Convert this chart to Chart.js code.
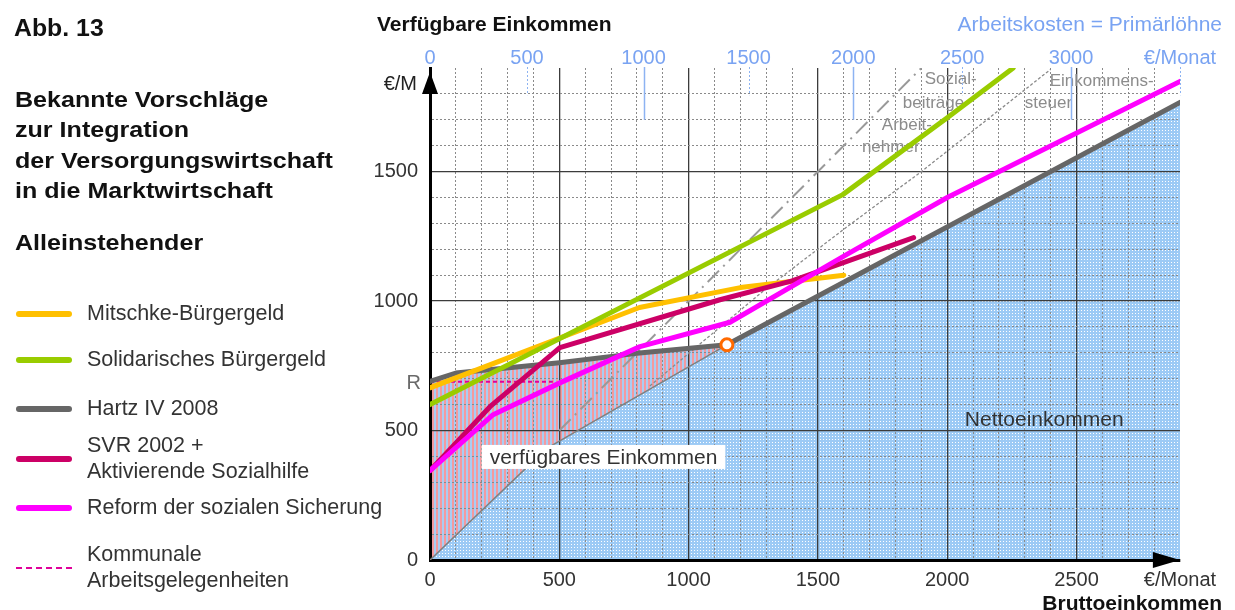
<!DOCTYPE html>
<html>
<head>
<meta charset="utf-8">
<script src="https://cdn.jsdelivr.net/npm/chart.js@4.4.1/dist/chart.umd.min.js"></script>
<style>
  html, body { margin: 0; padding: 0; background: #fff; }
  body { width: 1235px; height: 610px; position: relative; overflow: hidden;
         font-family: "Liberation Sans", Arial, Helvetica, sans-serif; color: #2b2b2b; }
  #box { position: absolute; left: 0; top: 0; width: 1235px; height: 610px; }
  .t { position: absolute; white-space: nowrap; transform-origin: 0 50%; }
  .b { font-weight: bold; color: #111; }
  .ttl { font-size: 22px; line-height: 30.3px; transform: scaleX(1.14); }
  .leg { font-size: 21.5px; line-height: 26px; color: #333; }
  .sw { position: absolute; left: 16px; width: 56px; height: 6px; border-radius: 3px; }
</style>
</head>
<body>
<div id="box"><canvas id="c"></canvas></div>

<div class="t b" style="left:14px; top:14px; font-size:23px; line-height:28px; transform:scaleX(1.08)">Abb. 13</div>
<div class="t b ttl" style="left:15px; top:85px">Bekannte Vorschläge<br>zur Integration<br>der Versorgungswirtschaft<br>in die Marktwirtschaft</div>
<div class="t b ttl" style="left:15px; top:228px">Alleinstehender</div>

<div class="sw" style="top:311px; background:#ffc000"></div>
<div class="t leg" style="left:87px; top:300px">Mitschke-Bürgergeld</div>
<div class="sw" style="top:357px; background:#99cc00"></div>
<div class="t leg" style="left:87px; top:346px">Solidarisches Bürgergeld</div>
<div class="sw" style="top:406px; background:#666666"></div>
<div class="t leg" style="left:87px; top:395px">Hartz IV 2008</div>
<div class="sw" style="top:456px; background:#cc0066"></div>
<div class="t leg" style="left:87px; top:432px">SVR 2002 +<br>Aktivierende Sozialhilfe</div>
<div class="sw" style="top:505px; background:#ff00ff"></div>
<div class="t leg" style="left:87px; top:494px">Reform der sozialen Sicherung</div>
<div class="sw" style="top:567px; height:0; border-radius:0; border-top:2px dashed #e0009a"></div>
<div class="t leg" style="left:87px; top:541px">Kommunale<br>Arbeitsgelegenheiten</div>

<div class="t b" style="left:377px; top:12px; font-size:21px; line-height:24px">Verfügbare Einkommen</div>
<div class="t" style="right:13px; top:12px; font-size:21px; line-height:24px; color:#79a3f2">Arbeitskosten = Primärlöhne</div>
<div class="t b" style="right:13px; top:591px; font-size:21px; line-height:24px">Bruttoeinkommen</div>

<script>
// Bruttoeinkommen (€/Monat) -> verfügbares Einkommen (€/Monat)
const mitschkeX = [0, 810, 1200, 1600];
const mitschkeY = [665, 975, 1052, 1100];

const solidX = [0, 1596, 2000, 2255];
const solidY = [600, 1411, 1708, 1900];

const hartzX = [0, 100, 500, 800, 1148, 2900];
const hartzY = [690, 722, 762, 798, 831, 1767];

const svrX = [0, 232, 502, 1121, 1400, 1870];
const svrY = [345, 592, 820, 1005, 1078, 1245];

const reformX = [0, 244, 502, 812, 1160, 1612, 2000, 2900];
const reformY = [345, 561, 684, 824, 918, 1180, 1400, 1848];

const regelsatz = 688;
const kommunaleX = [0, 475];
const kommunaleY = [regelsatz, regelsatz];

// Nettoeinkommen (untere Grenze des verfügbaren Einkommens)
const nettoX = [0, 450, 1148, 2900];
const nettoY = [0, 430, 831, 1767];

// Brutto = Netto + Sozialbeiträge Arbeitnehmer + Einkommensteuer
const bruttoX = [500, 1900];
const bruttoY = [500, 1900];
const steuerX = [850, 1290, 1610, 1900, 2400];
const steuerY = [672, 1040, 1285, 1500, 1895];

const knickX = [1148];
const knickY = [831];

// Achsenbeschriftungen
const xTickValues = [0, 500, 1000, 1500, 2000, 2500, 2900];
const xTickLabels = ['0', '500', '1000', '1500', '2000', '2500', '€/Monat'];
const yTickValues = [0, 500, 1000, 1500];
const yTickLabels = ['0', '500', '1000', '1500'];
const laborCostLabels = ['0', '500', '1000', '1500', '2000', '2500', '3000', '€/Monat'];
const laborCostAtGross = [0, 375, 826, 1232, 1637, 2058, 2479, 2900];

const FONT = '"Liberation Sans", Arial, sans-serif';
const BLUE = '#79a3f2';
const X_MAX = 2900, Y_MAX = 1900;

const pts = (xs, ys) => xs.map((v, i) => ({ x: v, y: ys[i] }));
const pick = (vals, labels, v) => { const i = vals.indexOf(v); return i < 0 ? '' : labels[i]; };
const steps = (max) => { const a = []; for (let v = 0; v <= max; v += 100) a.push({ value: v }); return a; };

const canvas = document.getElementById('c');
const ctx = canvas.getContext('2d');

// Füllmuster: blau gepunktet (Nettoeinkommen), rot/blau gestreift (verfügbares Einkommen)
function makePattern(w, h, paint) {
  const c = document.createElement('canvas');
  c.width = w; c.height = h;
  paint(c.getContext('2d'));
  return ctx.createPattern(c, 'repeat');
}
const blueDots = makePattern(3, 3, g => {
  g.fillStyle = '#9ccaf5'; g.fillRect(0, 0, 3, 3);
  g.fillStyle = '#ffffff'; g.fillRect(1, 1, 1, 1);
});
const redStripes = makePattern(4, 4, g => {
  g.fillStyle = '#a9cdf3'; g.fillRect(0, 0, 4, 4);
  g.fillStyle = '#f39a9f'; g.fillRect(0, 0, 2, 4);
});

// Gitter: durchgezogen alle 500, gepunktet alle 100
function gridColor(c, max) {
  const v = c.tick ? c.tick.value : undefined;
  if (v === undefined || v === 0 || v === max) return 'rgba(0,0,0,0)';
  return v % 500 === 0 ? '#3c3c3c' : '#8a8a8a';
}
const gridWidth = c => (c.tick && c.tick.value % 500 === 0) ? 1.3 : 1;
const gridDash = c => (c.tick && c.tick.value % 500 !== 0) ? [2, 2] : [];

const thick = { fill: false, borderWidth: 5, borderCapStyle: 'round', borderJoinStyle: 'round', pointRadius: 0 };

function label(g, s, x, y, align) {
  g.textAlign = align || 'left';
  g.fillText(s, x, y);
}

const decor = {
  id: 'decor',
  beforeDatasetsDraw(chart) {
    const { ctx: g, scales: { x, y } } = chart;
    g.save();
    g.font = '17px ' + FONT;
    g.fillStyle = '#8c8c8c';
    g.textBaseline = 'middle';
    [['Sozial-', 1913, 1856], ['beiträge', 1828, 1763], ['Arbeit-', 1747, 1678], ['nehmer', 1670, 1593],
     ['Einkommens-', 2396, 1848], ['steuer', 2300, 1763]]
      .forEach(([s, vx, vy]) => label(g, s, x.getPixelForValue(vx), y.getPixelForValue(vy)));
    g.restore();
  },
  afterDatasetsDraw(chart) {
    const { ctx: g, scales: { x, y, x2 } } = chart;
    g.save();
    g.font = '21px ' + FONT;
    g.textBaseline = 'middle';
    // Kasten "verfügbares Einkommen"
    const bx = x.getPixelForValue(200), by = y.getPixelForValue(398);
    const txt = 'verfügbares Einkommen';
    const w = g.measureText(txt).width;
    g.fillStyle = '#fff';
    g.fillRect(bx, by - 12, w + 16, 24);
    g.fillStyle = '#333';
    label(g, txt, bx + 8, by + 1);
    label(g, 'Nettoeinkommen', x.getPixelForValue(2068), y.getPixelForValue(541));

    // blaue Markierungen der Arbeitskosten-Skala
    const top = chart.chartArea.top - 1;
    g.strokeStyle = '#8db3f2';
    laborCostAtGross.forEach((v, i) => {
      if (i === 0) return;
      const px = Math.round(x2.getPixelForValue(v)) + 0.5;
      const long = i % 2 === 0 && i < laborCostAtGross.length - 1;
      g.lineWidth = long ? 1.5 : 1;
      g.setLineDash(long ? [] : [2, 2]);
      g.beginPath();
      g.moveTo(px, top);
      g.lineTo(px, y.getPixelForValue(long ? 1700 : 1795));
      g.stroke();
    });
    g.restore();
  },
  afterDraw(chart) {
    const { ctx: g, scales: { x, y } } = chart;
    const x0 = x.getPixelForValue(0), y0 = y.getPixelForValue(0);
    g.save();
    g.fillStyle = '#000';
    // Pfeilspitzen
    const ty = y.getPixelForValue(1885), tb = y.getPixelForValue(1800);
    g.beginPath(); g.moveTo(x0, ty); g.lineTo(x0 - 8, tb); g.lineTo(x0 + 8, tb); g.closePath(); g.fill();
    const tx = x.getPixelForValue(2900), txb = x.getPixelForValue(2795);
    g.beginPath(); g.moveTo(tx, y0); g.lineTo(txb, y0 - 8); g.lineTo(txb, y0 + 8); g.closePath(); g.fill();
    // Einheit und Regelsatz an der y-Achse
    g.font = '20px ' + FONT;
    g.textBaseline = 'middle';
    g.fillStyle = '#222';
    label(g, '€/M', x0 - 13, y.getPixelForValue(1837), 'right');
    g.fillStyle = '#6a6a6a';
    label(g, 'R', x0 - 9, y.getPixelForValue(regelsatz) + 2, 'right');
    g.restore();
  }
};

new Chart(ctx, {
  type: 'line',
  data: {
    datasets: [
      { label: 'Knick', data: pts(knickX, knickY), showLine: false, fill: false, pointRadius: 6,
        pointBorderWidth: 3, pointBorderColor: '#ff6a00', pointBackgroundColor: '#ffffff', order: 0 },
      { label: 'Reform der sozialen Sicherung', data: pts(reformX, reformY), borderColor: '#ff00ff', ...thick, order: 1 },
      { label: 'SVR 2002 + Aktivierende Sozialhilfe', data: pts(svrX, svrY), borderColor: '#cc0066', ...thick, order: 2 },
      { label: 'Solidarisches Bürgergeld', data: pts(solidX, solidY), borderColor: '#99cc00', ...thick, order: 3 },
      { label: 'Mitschke-Bürgergeld', data: pts(mitschkeX, mitschkeY), borderColor: '#ffc000', ...thick, order: 4 },
      { label: 'Hartz IV 2008', data: pts(hartzX, hartzY), borderColor: '#666666', ...thick,
        fill: 9, backgroundColor: redStripes, order: 5 },
      { label: 'Kommunale Arbeitsgelegenheiten', data: pts(kommunaleX, kommunaleY), borderColor: '#e0009a',
        borderWidth: 2, borderDash: [4, 3], fill: false, pointRadius: 0, order: 6 },
      { label: 'Bruttoeinkommen', data: pts(bruttoX, bruttoY), borderColor: '#999999',
        borderWidth: 2, borderDash: [16, 6, 2, 6], fill: false, pointRadius: 0, order: 7 },
      { label: 'vor Einkommensteuer', data: pts(steuerX, steuerY), borderColor: '#8a8a8a',
        borderWidth: 1.3, borderDash: [3, 2], fill: false, pointRadius: 0, order: 7 },
      { label: 'Nettoeinkommen', data: pts(nettoX, nettoY), borderColor: '#808080', borderWidth: 1.5,
        fill: 'origin', backgroundColor: blueDots, pointRadius: 0, order: 9 }
    ]
  },
  options: {
    responsive: true,
    maintainAspectRatio: false,
    animation: false,
    layout: { padding: { left: 0, right: 55, top: 0, bottom: 0 } },
    plugins: {
      legend: { display: false },
      tooltip: { enabled: false },
      filler: { drawTime: 'beforeDraw' }
    },
    scales: {
      x: {
        type: 'linear', position: 'bottom', min: 0, max: X_MAX,
        afterBuildTicks: s => { s.ticks = steps(X_MAX); },
        afterFit: s => { s.height = 50; },
        ticks: { autoSkip: false, maxRotation: 0, padding: 8, color: '#333', font: { size: 20, family: FONT },
                 callback: v => pick(xTickValues, xTickLabels, v) },
        grid: { drawTicks: false, color: c => gridColor(c, X_MAX), lineWidth: gridWidth },
        border: { color: '#000', width: 3, dash: gridDash }
      },
      x2: {
        type: 'linear', axis: 'x', position: 'top', min: 0, max: X_MAX,
        afterBuildTicks: s => { s.ticks = laborCostAtGross.map(v => ({ value: v })); },
        afterFit: s => { s.height = 68; },
        ticks: { autoSkip: false, maxRotation: 0, padding: -2, color: BLUE, font: { size: 20, family: FONT },
                 callback: (v, i) => laborCostLabels[i] },
        grid: { display: false, drawTicks: false },
        border: { display: false }
      },
      y: {
        type: 'linear', position: 'left', min: 0, max: Y_MAX,
        afterBuildTicks: s => { s.ticks = steps(Y_MAX); },
        afterFit: s => { s.width = 430; },
        ticks: { autoSkip: false, padding: 12, color: '#333', font: { size: 20, family: FONT },
                 callback: v => pick(yTickValues, yTickLabels, v) },
        grid: { drawTicks: false, color: c => gridColor(c, Y_MAX), lineWidth: gridWidth },
        border: { color: '#000', width: 3, dash: gridDash }
      }
    }
  },
  plugins: [decor]
});
</script>
</body>
</html>
